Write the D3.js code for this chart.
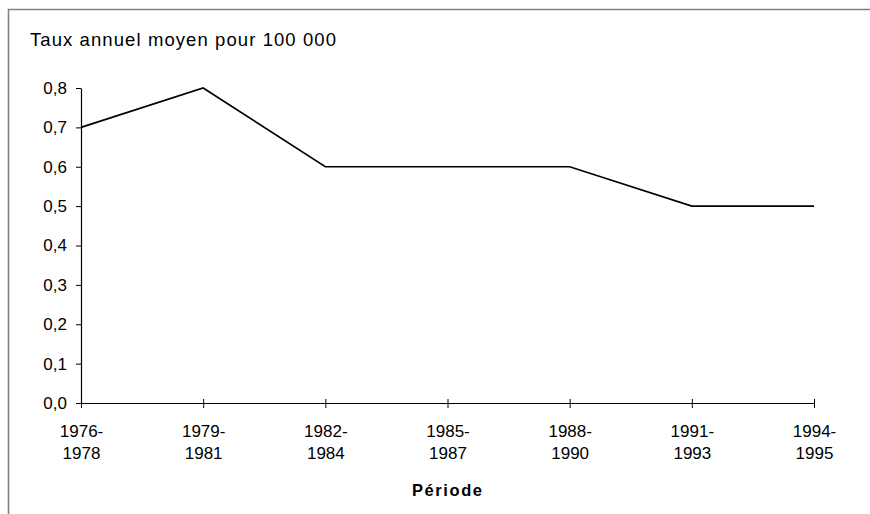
<!DOCTYPE html>
<html>
<head>
<meta charset="utf-8">
<script src="https://cdn.jsdelivr.net/npm/d3@7"></script>
<style>
  html, body { margin: 0; padding: 0; background: #fff; }
  svg { display: block; font-family: "Liberation Sans", Arial, sans-serif; }
</style>
</head>
<body>
<svg id="chart" width="870" height="514"></svg>
<script>
// Annual mean rate per 100 000, by period
const periods = ["1976-1978", "1979-1981", "1982-1984", "1985-1987", "1988-1990", "1991-1993", "1994-1995"];
const rates = [0.7, 0.8, 0.6, 0.6, 0.6, 0.5, 0.5];
const yTicks = [0, 0.1, 0.2, 0.3, 0.4, 0.5, 0.6, 0.7, 0.8];
const yTitle = "Taux annuel moyen pour 100 000";
const xTitle = "Période";

const svg = d3.select("#chart");

// outer frame
svg.append("path")
  .attr("d", "M8.5,514 V9.5 H872")
  .attr("fill", "none")
  .attr("stroke", "#808080")
  .attr("stroke-width", 1.6);

const plot = { left: 81, right: 814, top: 88, bottom: 403 };

const x = d3.scalePoint().domain(periods).range([plot.left, plot.right]);
const y = d3.scaleLinear().domain([0, 0.8]).range([plot.bottom, plot.top]);

const fr = d3.formatLocale({ decimal: ",", thousands: " ", grouping: [3], currency: ["", " €"] });
const fmt = fr.format(".1f");

// y axis
const yAxis = svg.append("g")
  .attr("transform", `translate(${plot.left},0)`)
  .call(d3.axisLeft(y).tickValues(yTicks).tickFormat(fmt).tickSize(5).tickSizeOuter(0).tickPadding(9));
yAxis.attr("font-family", null).attr("font-size", null);
yAxis.select(".domain").attr("stroke", "#000").attr("stroke-width", 1.2);
yAxis.selectAll(".tick line").attr("stroke", "#000").attr("stroke-width", 1);
yAxis.selectAll(".tick text")
  .attr("font-size", 17)
  .attr("fill", "#000");

// x axis with ticks crossing the baseline
const xAxis = svg.append("g")
  .attr("transform", `translate(0,${plot.bottom})`)
  .call(d3.axisBottom(x).tickSize(5).tickSizeOuter(0).tickFormat(""));
xAxis.attr("font-family", null).attr("font-size", null);
xAxis.select(".domain").attr("stroke", "#000").attr("stroke-width", 1.2);
xAxis.selectAll(".tick line").attr("y1", -4).attr("y2", 5).attr("stroke", "#000").attr("stroke-width", 1);

// two-line period labels
const xLabels = xAxis.selectAll(".tick").append("text")
  .attr("fill", "#000")
  .attr("font-size", 17)
  .attr("text-anchor", "middle");
xLabels.append("tspan")
  .attr("x", 0).attr("y", 34)
  .text(d => d.split("-")[0] + "-");
xLabels.append("tspan")
  .attr("x", 0).attr("y", 55.5)
  .text(d => d.split("-")[1]);

// data line
const line = d3.line()
  .x((d, i) => x(periods[i]))
  .y(d => y(d));
svg.append("path")
  .datum(rates)
  .attr("d", line)
  .attr("fill", "none")
  .attr("stroke", "#000")
  .attr("stroke-width", 1.6)
  .attr("stroke-linejoin", "miter");

// titles
svg.append("text")
  .attr("x", 30).attr("y", 46)
  .attr("font-size", 18.5)
  .attr("textLength", 306)
  .attr("lengthAdjust", "spacing")
  .attr("fill", "#000")
  .text(yTitle);

svg.append("text")
  .attr("x", 412).attr("y", 496)
  .attr("font-size", 16.5)
  .attr("font-weight", "bold")
  .attr("textLength", 70)
  .attr("lengthAdjust", "spacing")
  .attr("fill", "#000")
  .text(xTitle);
</script>
</body>
</html>
